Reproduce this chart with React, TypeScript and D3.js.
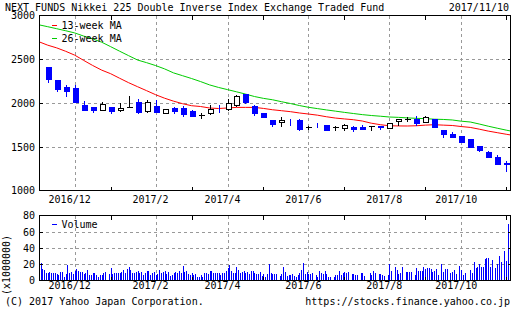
import React from "react";
import * as d3 from "d3";

const W = 512;
const H = 310;
const FONT = "'DejaVu Sans Mono', monospace";

const TITLE = "NEXT FUNDS Nikkei 225 Double Inverse Index Exchange Traded Fund";
const DATE_LABEL = "2017/11/10";
const COPYRIGHT = "(C) 2017 Yahoo Japan Corporation.";
const URL_TEXT = "https://stocks.finance.yahoo.co.jp";
const VOL_UNIT = "(x1000000)";

const firstWeek = new Date(2016, 10, 14);

const opens = [2411, 2258, 2183, 2171, 1981, 1954, 1923, 1950, 1915, 1960, 2011, 1912, 1969, 1886, 1943, 1943, 1904, 1858, 1881, 1957, 1935, 1973, 2106, 1961, 1889, 1801, 1783, 1800, 1809, 1721, 1751, 1744, 1721, 1714, 1726, 1729, 1735, 1735, 1714, 1797, 1815, 1820, 1783, 1820, 1695, 1641, 1626, 1584, 1504, 1435, 1378, 1312];
const highs = [2415, 2266, 2209, 2209, 2018, 1954, 2011, 1950, 1995, 2083, 2046, 2038, 2038, 1931, 1954, 1961, 1923, 1886, 1973, 1980, 2046, 2095, 2106, 1973, 1889, 1801, 1843, 1817, 1820, 1737, 1771, 1744, 1737, 1760, 1737, 1744, 1737, 1737, 1771, 1820, 1843, 1855, 1855, 1820, 1695, 1664, 1626, 1584, 1504, 1447, 1401, 1332];
const lows = [2235, 2133, 2075, 2007, 1920, 1893, 1915, 1886, 1904, 1958, 1886, 1897, 1893, 1886, 1886, 1847, 1847, 1829, 1874, 1893, 1923, 1961, 2000, 1866, 1835, 1733, 1733, 1752, 1695, 1703, 1722, 1690, 1695, 1690, 1683, 1703, 1690, 1703, 1714, 1744, 1790, 1752, 1783, 1721, 1611, 1615, 1558, 1492, 1447, 1378, 1298, 1218];
const closes = [2274, 2160, 2141, 2015, 1923, 1923, 1989, 1904, 1943, 1960, 1897, 2015, 1900, 1931, 1909, 1878, 1847, 1858, 1927, 1953, 2000, 2083, 2007, 1881, 1835, 1760, 1809, 1797, 1703, 1721, 1748, 1695, 1721, 1744, 1698, 1703, 1735, 1731, 1771, 1820, 1815, 1771, 1840, 1721, 1649, 1615, 1558, 1492, 1458, 1378, 1298, 1308];

// moving averages, one value per week from the week before the first candle to the week after the last
const ma13 = [2701, 2661, 2630, 2591, 2547, 2487, 2429, 2376, 2335, 2283, 2232, 2186, 2141, 2095, 2055, 2021, 1992, 1969, 1960, 1943, 1937, 1943, 1950, 1950, 1950, 1938, 1923, 1912, 1901, 1886, 1874, 1861, 1843, 1828, 1818, 1809, 1794, 1769, 1752, 1740, 1738, 1737, 1740, 1747, 1752, 1747, 1743, 1731, 1721, 1701, 1679, 1661, 1643, 1626];
const ma26 = [2894, 2872, 2849, 2826, 2801, 2765, 2733, 2695, 2644, 2592, 2541, 2491, 2461, 2428, 2390, 2344, 2312, 2280, 2245, 2207, 2178, 2153, 2128, 2102, 2074, 2053, 2037, 2015, 1994, 1971, 1951, 1936, 1921, 1907, 1893, 1880, 1867, 1857, 1849, 1840, 1836, 1830, 1825, 1821, 1815, 1812, 1806, 1792, 1783, 1760, 1735, 1712, 1690, 1669];

// daily volume (millions), five trading days per week, starting one week before the first candle
const volume = [
  0, 0, 0, 21.3, 14.4,
  12.7, 9.0, 9.0, 10.7, 9.8,
  9.4, 9.0, 7.4, 7.0, 10.7,
  10.7, 4.9, 7.8, 19.3, 9.0,
  10.7, 8.2, 11.5, 14.0, 11.5,
  10.7, 10.7, 7.4, 9.8, 13.1,
  6.6, 7.0, 9.8, 9.8, 7.0,
  4.1, 6.6, 7.0, 9.0, 10.7,
  0, 8.2, 15.6, 8.2, 9.0,
  9.0, 9.0, 9.8, 10.7, 13.1,
  9.0, 13.9, 17.2, 13.1, 9.8,
  9.0, 10.7, 12.3, 9.0, 10.7,
  6.6, 9.0, 12.3, 11.5, 6.6,
  9.0, 10.7, 7.0, 8.2, 13.1,
  9.0, 10.7, 11.5, 8.2, 10.7,
  5.7, 6.6, 9.0, 10.7, 9.0,
  11.5, 9.8, 18.0, 10.7, 12.3,
  8.2, 6.6, 9.0, 6.6, 8.2,
  4.9, 4.1, 6.6, 4.9, 9.8,
  9.8, 7.4, 11.5, 12.3, 9.8,
  9.0, 9.0, 9.8, 6.6, 9.8,
  9.8, 11.5, 14.8, 19.3, 12.3,
  9.8, 9.0, 16.4, 13.1, 9.8,
  10.7, 11.5, 9.0, 10.7, 8.2,
  12.3, 11.5, 9.8, 7.4, 7.4,
  10.7, 5.7, 7.4, 4.9, 7.4,
  19.7, 9.0, 8.2, 7.4, 8.2,
  0, 5.7, 7.4, 16.4, 10.7,
  5.7, 6.6, 6.6, 8.2, 5.7,
  4.9, 6.6, 9.0, 13.1, 22.1,
  7.4, 10.7, 8.2, 8.2, 9.0,
  0, 6.6, 4.9, 11.5, 9.0,
  7.4, 11.5, 7.4, 4.9, 4.1,
  0, 4.9, 6.6, 6.6, 11.5,
  6.6, 9.0, 10.7, 9.0, 10.7,
  0, 7.4, 7.4, 6.6, 6.6,
  0, 9.0, 9.0, 5.7, 0,
  0, 9.0, 6.6, 12.3, 9.0,
  0, 7.4, 7.4, 6.6, 5.7,
  0, 6.6, 19.7, 12.3, 0,
  16.4, 13.1, 7.4, 9.0, 16.4,
  0, 10.7, 10.7, 10.7, 10.7,
  0, 6.6, 14.8, 11.5, 11.5,
  11.5, 16.4, 13.9, 14.8, 15.6,
  13.9, 10.7, 12.3, 13.9, 6.6,
  0, 20.5, 10.7, 13.9, 13.9,
  0, 9.0, 10.7, 13.1, 8.2,
  0, 18.0, 13.1, 6.6, 9.0,
  0, 0, 13.1, 9.0, 23.0,
  15.6, 16.4, 19.7, 16.4, 16.4,
  26.2, 27.1, 27.9, 17.2, 25.4,
  0, 14.8, 19.7, 30.3, 23.0,
  0, 36.1, 24.6, 69.7, 30.3,
];

const priceTicks = [1000, 1500, 2000, 2500, 3000];
const volTicks = [0, 20, 40, 60, 80];

const BLUE = "#0000ff";
const GRID = "#999999";

export default function App() {
  const L = 39.5;
  const R = 510.5;
  const x = d3.scaleLinear().domain([0, 51]).range([47.7, 506.2]);
  const y = d3.scaleLinear().domain([1000, 3000]).range([190.5, 15.5]);
  const yv = d3.scaleLinear().domain([0, 80]).range([280.5, 215.5]);

  const weeks = d3.timeMonday.range(firstWeek, d3.timeDay.offset(firstWeek, 7 * opens.length));
  const monthMarks = weeks
    .map((d, i) => ({ d, i }))
    .filter(({ d, i }) => i > 0 && d.getMonth() !== weeks[i - 1].getMonth());
  const gridMonths = monthMarks.filter(({ d }) => d.getMonth() % 2 === 1);
  const tickMonths = monthMarks.filter(({ d }) => d.getMonth() % 2 === 0);
  const px = (i: number) => Math.round(x(i)) + 0.5;

  const line13 = d3.line<number>().x((_, i) => x(i - 1)).y((v) => y(v));

  const candleW = 5;

  const priceGridY = [1500, 2000, 2500];
  const volGridY = [20, 40, 60];

  return (
    <svg width={W} height={H} style={{ display: "block", position: "absolute", left: 0, top: 0, background: "#fff" }}>
      <defs>
        <clipPath id="clipMain">
          <rect x={L} y={15.5} width={R - L} height={175} />
        </clipPath>
        <clipPath id="clipVol">
          <rect x={L} y={215.5} width={R - L} height={65} />
        </clipPath>
      </defs>
      <rect x={0} y={0} width={W} height={H} fill="#fff" />

      {/* title */}
      <text x={5} y={11} fontFamily={FONT} fontSize={10} fill="#000">{TITLE}</text>
      <text x={509} y={11} fontFamily={FONT} fontSize={10} fill="#000" textAnchor="end">{DATE_LABEL}</text>

      {/* ===== main panel grid ===== */}
      <g shapeRendering="crispEdges">
        {priceGridY.map((v) => (
          <line key={"pg" + v} x1={L} x2={R} y1={Math.round(y(v)) + 0.5} y2={Math.round(y(v)) + 0.5} stroke={GRID} strokeDasharray="3,3" />
        ))}
        {gridMonths.map(({ i }) => (
          <line key={"pv" + i} x1={px(i)} x2={px(i)} y1={15.5} y2={190.5} stroke={GRID} strokeDasharray="3,3" />
        ))}
        {volGridY.map((v) => (
          <line key={"vg" + v} x1={L} x2={R} y1={Math.round(yv(v)) + 0.5} y2={Math.round(yv(v)) + 0.5} stroke={GRID} strokeDasharray="3,3" />
        ))}
        {gridMonths.map(({ i }) => (
          <line key={"vv" + i} x1={px(i)} x2={px(i)} y1={215.5} y2={280.5} stroke={GRID} strokeDasharray="3,3" />
        ))}
      </g>

      {/* moving averages */}
      <g clipPath="url(#clipMain)" fill="none" strokeWidth={1}>
        <path d={line13(ma26) || ""} stroke="#00cc00" />
        <path d={line13(ma13) || ""} stroke="#ff0000" />
      </g>

      {/* candles */}
      <g shapeRendering="crispEdges">
        {opens.map((o, i) => {
          const c = closes[i];
          const cx = px(i);
          const up = c > o;
          const flat = c === o;
          const col = up || flat ? "#000" : BLUE;
          const top = Math.round(y(Math.max(o, c)));
          const bot = Math.round(y(Math.min(o, c)));
          return (
            <g key={"c" + i}>
              <line x1={cx} x2={cx} y1={Math.round(y(highs[i]))} y2={Math.round(y(lows[i])) + 1} stroke={col} />
              {flat ? (
                <rect x={cx - 3} y={top} width={6} height={1} fill="#000" />
              ) : (
                <rect
                  x={cx - 2.5}
                  y={top + 0.5}
                  width={candleW}
                  height={Math.max(0, bot - top)}
                  fill={up ? "#fff" : BLUE}
                  stroke={col}
                />
              )}
            </g>
          );
        })}
      </g>

      {/* volume bars */}
      <g clipPath="url(#clipVol)" shapeRendering="crispEdges">
        {volume.map((v, k) => {
          const w = Math.floor(k / 5) - 1;
          const d = k % 5;
          const xx = Math.round(x(w + (d - 2) * 0.2));
          if (v <= 0) return null;
          return <rect key={"v" + k} x={xx} y={yv(v)} width={1} height={yv(0) - yv(v)} fill={BLUE} />;
        })}
      </g>

      {/* frames and ticks */}
      <g shapeRendering="crispEdges" stroke="#000" fill="none">
        <rect x={L} y={15.5} width={R - L} height={175} />
        <rect x={L} y={215.5} width={R - L} height={65} />
        {tickMonths.map(({ i }) => (
          <g key={"t" + i}>
            <line x1={px(i)} x2={px(i)} y1={15.5} y2={19.5} />
            <line x1={px(i)} x2={px(i)} y1={186.5} y2={190.5} />
            <line x1={px(i)} x2={px(i)} y1={215.5} y2={219.5} />
            <line x1={px(i)} x2={px(i)} y1={276.5} y2={280.5} />
          </g>
        ))}
        {priceGridY.map((v) => (
          <g key={"rt" + v}>
            <line x1={L} x2={L + 3} y1={Math.round(y(v)) + 0.5} y2={Math.round(y(v)) + 0.5} />
            <line x1={R - 3} x2={R} y1={Math.round(y(v)) + 0.5} y2={Math.round(y(v)) + 0.5} />
          </g>
        ))}
        {volGridY.map((v) => (
          <g key={"vt" + v}>
            <line x1={L} x2={L + 3} y1={Math.round(yv(v)) + 0.5} y2={Math.round(yv(v)) + 0.5} />
            <line x1={R - 3} x2={R} y1={Math.round(yv(v)) + 0.5} y2={Math.round(yv(v)) + 0.5} />
          </g>
        ))}
      </g>

      {/* axis labels */}
      <g fontFamily={FONT} fontSize={10} fill="#000">
        {priceTicks.map((v) => (
          <text key={"yl" + v} x={35} y={y(v) + 3.8} textAnchor="end">{v}</text>
        ))}
        {volTicks.map((v) => (
          <text key={"vl" + v} x={35} y={yv(v) + 3.8} textAnchor="end">{v}</text>
        ))}
        {gridMonths.map(({ d, i }) => (
          <text key={"xl" + i} x={x(i) - 5} y={203} textAnchor="middle">{`${d.getFullYear()}/${d.getMonth() + 1}`}</text>
        ))}
        {gridMonths.map(({ d, i }) => (
          <text key={"xv" + i} x={x(i) - 5} y={288.5} textAnchor="middle">{`${d.getFullYear()}/${d.getMonth() + 1}`}</text>
        ))}
        <text transform="translate(9.5,265) rotate(-90)" textAnchor="middle">{VOL_UNIT}</text>
        <text x={5} y={305}>{COPYRIGHT}</text>
        <text x={510} y={305} textAnchor="end">{URL_TEXT}</text>
      </g>

      {/* legends */}
      <g fontFamily={FONT} fontSize={10}>
        <line x1={52} x2={57} y1={25.5} y2={25.5} stroke="#ff0000" shapeRendering="crispEdges" />
        <text x={61.5} y={29} fill="#000">13-week MA</text>
        <line x1={52} x2={57} y1={38.5} y2={38.5} stroke="#00cc00" shapeRendering="crispEdges" />
        <text x={61.5} y={42.2} fill="#000">26-week MA</text>
        <line x1={52} x2={57} y1={224.5} y2={224.5} stroke={BLUE} shapeRendering="crispEdges" />
        <text x={61.5} y={228.2} fill="#000">Volume</text>
      </g>
    </svg>
  );
}
